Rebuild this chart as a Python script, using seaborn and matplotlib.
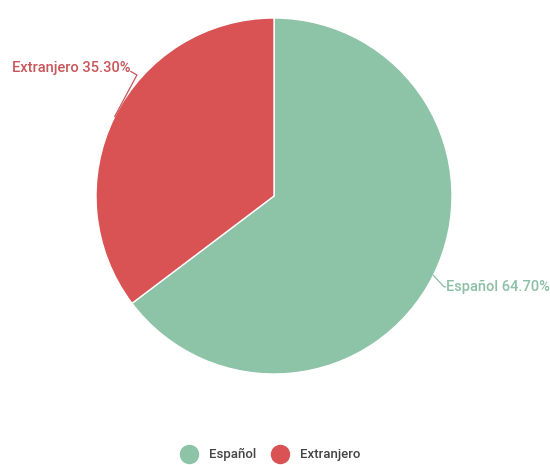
import numpy as np
import matplotlib
matplotlib.use("Agg")
import matplotlib.pyplot as plt
import seaborn as sns
from matplotlib.lines import Line2D

# data
categories = ["Español", "Extranjero"]
shares = [64.70, 35.30]
colors = ["#8DC3A7", "#D95355"]
label_colors = ["#8CBFA5", "#C9555A"]

sns.set_theme(style="white")
plt.rcParams['font.family'] = ['Roboto', 'DejaVu Sans']

fig = plt.figure(figsize=(5.5, 4.65), dpi=100)
W, H = 550, 465
cx, cy, r = 274, 196, 178
ax = fig.add_axes([(cx - r) / W, (H - cy - r) / H, 2 * r / W, 2 * r / H])

wedges, _ = ax.pie(shares, colors=colors, startangle=90, counterclock=False,
                   radius=1, wedgeprops=dict(edgecolor="white", linewidth=1))
ax.set_xlim(-1, 1)
ax.set_ylim(-1, 1)
ax.set_aspect("equal")
ax.axis("off")

# labels with leader lines
for w, cat, val, lc in zip(wedges, categories, shares, label_colors):
    ang = np.deg2rad((w.theta1 + w.theta2) / 2)
    x, y = np.cos(ang), np.sin(ang)
    txt = f"{cat} {val:.2f}%"
    if x < 0:
        tx, ty, ha = -0.805, 0.72, "right"
        mid = (-0.77, 0.68)
    else:
        tx, ty, ha = 0.965, -0.51, "left"
        mid = (0.955, -0.51)
    ax.plot([x, mid[0], tx], [y, mid[1], ty - 0.02 if x < 0 else ty],
            color=lc, lw=0.9, clip_on=False)
    ax.text(tx, ty, txt, ha=ha, va="center", color=lc, fontsize=10.5,
            fontweight="medium", clip_on=False)

handles = [Line2D([0], [0], marker="o", linestyle="", markersize=13,
                  markerfacecolor=c, markeredgecolor=c) for c in colors]
fig.legend(handles, categories, loc="center", bbox_to_anchor=(0.487, 0.022),
           ncol=2, frameon=False, handletextpad=0.5,
           columnspacing=0.8, labelcolor="#444444",
           prop=dict(family=['Roboto', 'DejaVu Sans'], size=9.5, weight="medium"))

fig.savefig("out.png", dpi=100)
